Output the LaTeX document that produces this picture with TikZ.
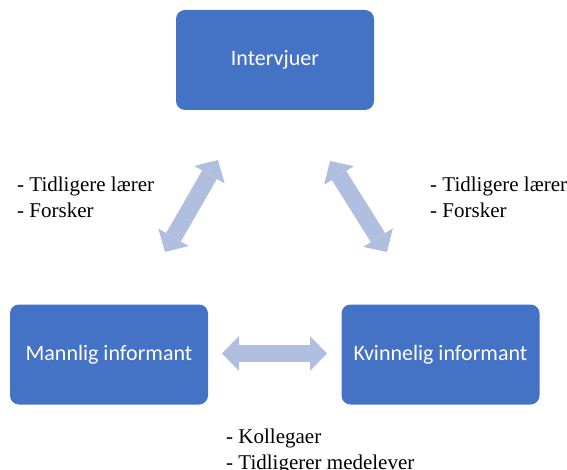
\documentclass[tikz,border=0pt]{standalone}
\usepackage{fontspec}
\setmainfont{Liberation Serif}
\newfontfamily\boxfont{Carlito}
\usetikzlibrary{arrows.meta}
\definecolor{boxblue}{HTML}{4472C4}
\definecolor{arrowblue}{HTML}{B0BEE0}
\tikzset{
  rolebox/.style={draw=none, fill=boxblue, rounded corners=9pt,
    minimum width=198pt, minimum height=100pt, inner sep=0pt,
    text=white, font=\boxfont\fontsize{22}{26}\selectfont},
  biarrow/.style={draw=arrowblue, line width=17pt,
    {Triangle[length=17pt, width=35pt, line width=0pt]}-{Triangle[length=17pt, width=35pt, line width=0pt]}},
  notes/.style={anchor=north west, inner sep=0pt, align=left,
    font=\fontsize{21}{26}\selectfont}
}
\begin{document}
\begin{tikzpicture}[x=1pt, y=-1pt]
  \useasboundingbox (0,0) rectangle (567,470);

  % the three roles
  \node[rolebox] (intervjuer) at (275,60) {Intervjuer};
  \node[rolebox] (mann) at (109,354.5) {Mannlig informant};
  \node[rolebox] (kvinne) at (440.5,354.5) {Kvinnelig informant};

  % arrow end points between the roles
  \coordinate (lu) at (218,160);
  \coordinate (ll) at (165,252);
  \coordinate (ru) at (330,161);
  \coordinate (rl) at (387,252);
  \coordinate (hl) at (222,353.5);
  \coordinate (hr) at (327,353.5);

  \draw[biarrow] (ll) -- (lu);
  \draw[biarrow] (ru) -- (rl);
  \draw[biarrow] (hl) -- (hr);

  % relations
  \node[notes] (relL) at (17,177) {- Tidligere lærer\\- Forsker};
  \node[notes] (relR) at (430,177) {- Tidligere lærer\\- Forsker};
  \node[notes] (relB) at (226,429) {- Kollegaer\\- Tidligerer medelever};
\end{tikzpicture}
\end{document}
